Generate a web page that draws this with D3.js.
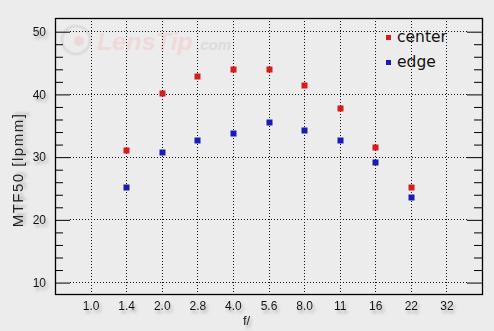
<!DOCTYPE html>
<html>
<head>
<meta charset="utf-8">
<script src="https://cdn.jsdelivr.net/npm/d3@7"></script>
<style>
  html, body { margin: 0; padding: 0; background: #ececec; }
  svg { display: block; }
</style>
</head>
<body>
<script>
// f-stops on the x axis
const fStops = ["1.0", "1.4", "2.0", "2.8", "4.0", "5.6", "8.0", "11", "16", "22", "32"];
// MTF50 readings, lpmm
const centerStops = ["1.4", "2.0", "2.8", "4.0", "5.6", "8.0", "11", "16", "22"];
const centerVals  = [31.1, 40.2, 42.9, 43.9, 44.0, 41.4, 37.7, 31.6, 25.2];
const edgeStops   = ["1.4", "2.0", "2.8", "4.0", "5.6", "8.0", "11", "16", "22"];
const edgeVals    = [25.2, 30.7, 32.6, 33.8, 35.6, 34.3, 32.6, 29.1, 23.6];
const yMajor = [10, 20, 30, 40, 50];
const yMinor = [12, 14, 16, 18, 22, 24, 26, 28, 32, 34, 36, 38, 42, 44, 46, 48];

const W = 494, H = 331;
const pL = 55, pR = 482, pT = 18, pB = 294;

const svg = d3.select("body").append("svg").attr("width", W).attr("height", H);

const defs = svg.append("defs");
const f = defs.append("filter").attr("id", "shadow")
  .attr("x", "-30%").attr("y", "-30%").attr("width", "160%").attr("height", "160%");
f.append("feDropShadow").attr("dx", 2).attr("dy", 3).attr("stdDeviation", 1.8)
  .attr("flood-color", "#777").attr("flood-opacity", 0.55);

const x = d3.scalePoint().domain(fStops).range([pL, pR]).padding(1);
const y = d3.scaleLinear().domain([8.1, 52.1]).range([pB, pT]);

// watermark
const wm = svg.append("g");
wm.append("circle").attr("cx", 76).attr("cy", 40).attr("r", 14)
  .attr("fill", "none").attr("stroke", "#dddddd").attr("stroke-width", 3);
wm.append("circle").attr("cx", 79).attr("cy", 41).attr("r", 5).attr("fill", "#ecd8d8");
wm.append("text").attr("x", 97).attr("y", 50)
  .attr("font-family", "Liberation Sans, Arial, sans-serif").attr("font-size", 24)
  .attr("font-weight", "bold").attr("font-style", "italic").attr("fill", "#efd9d9")
  .attr("textLength", 96).attr("lengthAdjust", "spacingAndGlyphs")
  .text("LensTip");
wm.append("text").attr("x", 196).attr("y", 50)
  .attr("font-family", "Liberation Sans, Arial, sans-serif").attr("font-size", 15)
  .attr("font-weight", "bold").attr("font-style", "italic").attr("fill", "#dcdcdc")
  .text(".com");

// grid
const grid = svg.append("g").attr("stroke", "#111").attr("stroke-dasharray", "1,2");
grid.selectAll("line.h").data(yMajor).join("line")
  .attr("x1", pL + 15).attr("x2", pR - 15)
  .attr("y1", d => Math.round(y(d)) + 0.5).attr("y2", d => Math.round(y(d)) + 0.5);
grid.selectAll("line.v").data(fStops).join("line")
  .attr("x1", d => Math.round(x(d)) + 0.5).attr("x2", d => Math.round(x(d)) + 0.5)
  .attr("y1", pT).attr("y2", pB);

// left axis, ticks pointing in
const yAxisL = svg.append("g").attr("transform", `translate(${pL},0.5)`)
  .call(d3.axisLeft(y).tickValues(yMajor).tickSizeInner(-15).tickSizeOuter(0).tickPadding(9));
yAxisL.select(".domain").remove();
yAxisL.selectAll("text").attr("font-family", "Liberation Sans, Arial, sans-serif")
  .attr("font-size", 12).attr("fill", "#111").attr("filter", "url(#shadow)");
svg.append("g").attr("transform", `translate(${pL},0.5)`)
  .call(d3.axisRight(y).tickValues(yMinor).tickSize(8).tickFormat(""))
  .select(".domain").remove();

// right axis
svg.append("g").attr("transform", `translate(${pR},0.5)`)
  .call(d3.axisLeft(y).tickValues(yMajor).tickSize(15).tickFormat(""))
  .select(".domain").remove();
svg.append("g").attr("transform", `translate(${pR},0.5)`)
  .call(d3.axisLeft(y).tickValues(yMinor).tickSize(8).tickFormat(""))
  .select(".domain").remove();

// x axis labels
const xAxis = svg.append("g").attr("transform", `translate(0,${pB})`)
  .call(d3.axisBottom(x).tickSize(0).tickPadding(7));
xAxis.select(".domain").remove();
xAxis.selectAll("text").attr("font-family", "Liberation Sans, Arial, sans-serif")
  .attr("font-size", 12).attr("fill", "#111").attr("filter", "url(#shadow)");

// frame
svg.append("rect").attr("x", pL + 0.5).attr("y", pT + 0.5)
  .attr("width", pR - pL).attr("height", pB - pT)
  .attr("fill", "none").attr("stroke", "#000").attr("stroke-width", 1.3);

// axis titles
svg.append("text").attr("transform", "translate(23,170) rotate(-90)")
  .attr("text-anchor", "middle").attr("font-family", "Liberation Sans, Arial, sans-serif")
  .attr("font-size", 15).attr("letter-spacing", 1.5).attr("fill", "#222")
  .attr("filter", "url(#shadow)").text("MTF50 [lpmm]");
svg.append("text").attr("x", 243).attr("y", 325)
  .attr("font-family", "Liberation Sans, Arial, sans-serif").attr("font-size", 13)
  .attr("fill", "#222").attr("filter", "url(#shadow)").text("f/");

// points
const series = [
  { name: "center", stops: centerStops, vals: centerVals, color: "#d81c1c" },
  { name: "edge", stops: edgeStops, vals: edgeVals, color: "#1a1ab8" }
];
const ms = 6;
series.forEach(s => {
  svg.append("g").selectAll("rect").data(s.vals).join("rect")
    .attr("x", (d, i) => Math.round(x(s.stops[i])) - ms / 2 + 0.5)
    .attr("y", d => Math.round(y(d)) - ms / 2 + 0.5)
    .attr("width", ms).attr("height", ms).attr("fill", s.color);
});

// legend
const lg = svg.append("g").attr("transform", "translate(386,0)");
series.forEach((s, i) => {
  lg.append("rect").attr("x", 0).attr("y", 35 + i * 25).attr("width", 5).attr("height", 5).attr("fill", s.color);
  lg.append("text").attr("x", 11).attr("y", 42 + i * 25)
    .attr("font-family", "DejaVu Sans, sans-serif").attr("font-size", 15.5)
    .attr("fill", "#111").text(s.name);
});
</script>
</body>
</html>
